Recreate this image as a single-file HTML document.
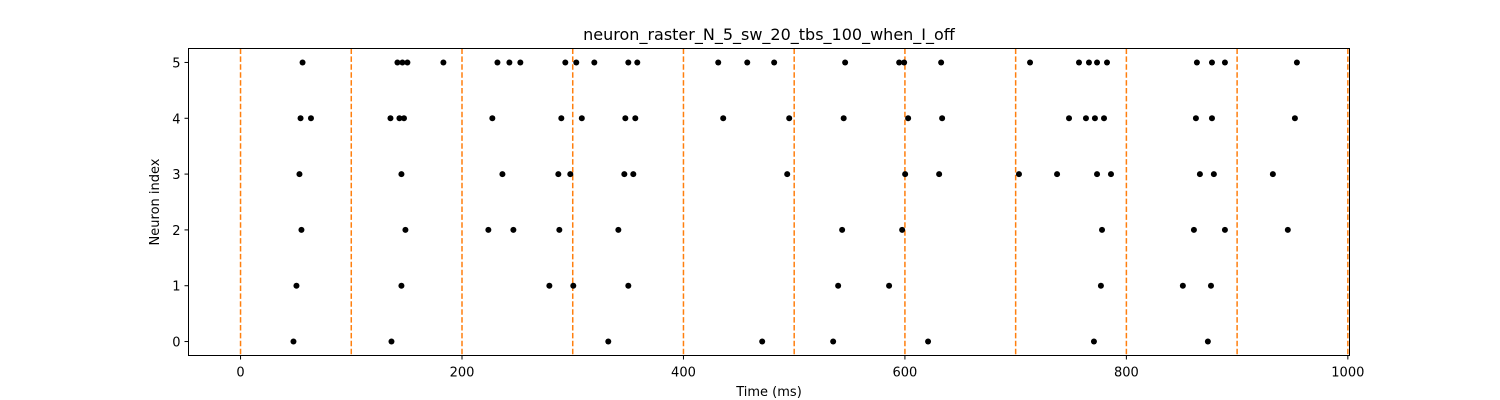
<!DOCTYPE html>
<html><head><meta charset="utf-8"><style>
html,body{margin:0;padding:0;background:#fff;}
svg{display:block;font-family:"DejaVu Sans","Liberation Sans",sans-serif;}
</style></head><body>
<svg id="chart" width="1500" height="400" viewBox="0 0 1500 400" xmlns="http://www.w3.org/2000/svg">
<rect width="1500" height="400" fill="#fff"/>
<text x="769" y="40" text-anchor="middle" font-size="16" fill="#000">neuron_raster_N_5_sw_20_tbs_100_when_I_off</text>
<g id="marks"></g>
<rect x="188.5" y="48.5" width="1161" height="307" fill="none" stroke="#000" stroke-width="1"/>
<text x="769" y="396" text-anchor="middle" font-size="13">Time (ms)</text>
<text transform="translate(159,202) rotate(-90)" text-anchor="middle" font-size="13">Neuron index</text>
</svg>
<script>
const neuronIds = [0,1,2,3,4,5];
const spikes0 = [47.8,136.3,332.1,471.1,535.2,620.9,770.7,873.6];
const spikes1 = [50.5,145.3,278.9,300.5,350.2,539.7,585.7,777,851,876.4];
const spikes2 = [55,148.9,223.8,246.4,287.9,341.2,543.3,597.5,778,861,889,945.8];
const spikes3 = [53.2,145.3,236.5,287,297.8,346.6,354.7,493.7,600.2,630.9,703,737.4,773.5,786.1,866.4,879,932.3];
const spikes4 = [54.2,63.6,135.4,143.5,147.6,227.4,289.7,308.2,347.5,356.5,435.9,495.5,544.7,602.9,633.6,748.2,763.5,771.6,779.8,862.8,877.3,952.2];
const spikes5 = [56,141.7,146.2,150.7,183.2,232,242.8,252.7,293.3,303.2,319.5,350.2,358.3,431.4,457.6,481.9,546,594.8,599.3,632.7,713,757.2,766.2,773.5,782.5,863.7,877.3,889,954];
const stimTimes = [0,100,200,300,400,500,600,700,800,900,1000];
const xTicks = [0,200,400,600,800,1000];
const yTicks = [0,1,2,3,4,5];

const NS="http://www.w3.org/2000/svg";
const X0=188.5,X1=1349.5,Y0=48.5,Y1=355.5;
const xMin=-47,xMax=1001.5,yMin=-0.25,yMax=5.25;
function sx(v){return X0+(v-xMin)/(xMax-xMin)*(X1-X0);}
function sy(v){return Y1-(v-yMin)/(yMax-yMin)*(Y1-Y0);}
const g=document.getElementById('marks');
const svg=document.getElementById('chart');
function mk(t,a,p){const e=document.createElementNS(NS,t);for(const k in a)e.setAttribute(k,a[k]);(p||g).appendChild(e);return e;}

stimTimes.forEach(t=>{
  const l=mk('line',{x1:sx(t),x2:sx(t),y1:Y0,y2:Y1,stroke:'#ff7f0e','stroke-width':1.5,'stroke-dasharray':'5.5,2.4'});
  
  
});
const all=[spikes0,spikes1,spikes2,spikes3,spikes4,spikes5];
neuronIds.forEach((n,i)=>{
  all[i].forEach(t=>{
    const c=mk('circle',{cx:sx(t),cy:sy(n),r:3,fill:'#000'});
    
    
  });
});
xTicks.forEach(v=>{
  const x=sx(v);
  const tk=mk('line',{x1:x,x2:x,y1:Y1,y2:Y1+4,stroke:'#000'},svg);
  
  
  const tx=mk('text',{x:x,y:Y1+21,'text-anchor':'middle','font-size':13},svg);
  tx.textContent=v;
  
  
});
yTicks.forEach(v=>{
  const y=sy(v);
  const tk=mk('line',{x1:X0-4,x2:X0,y1:y,y2:y,stroke:'#000'},svg);
  
  
  const tx=mk('text',{x:X0-8,y:y+5,'text-anchor':'end','font-size':13},svg);
  tx.textContent=v;
  
  
});
</script>
</body></html>
